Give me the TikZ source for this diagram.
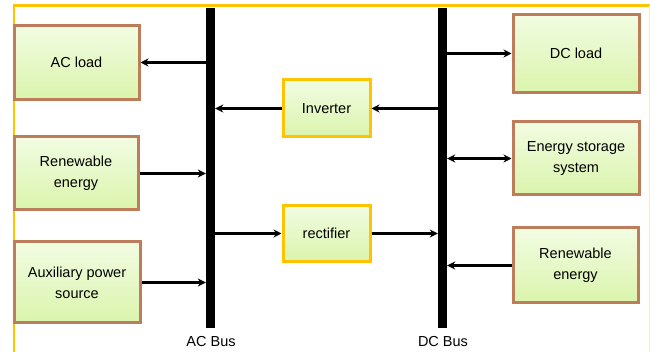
\documentclass[tikz,border=0pt]{standalone}
\usepackage{fontspec}
\setmainfont{Liberation Sans}
\usetikzlibrary{arrows.meta,positioning}

\definecolor{boxline}{RGB}{190,125,90}
\definecolor{gold}{RGB}{255,195,0}
\definecolor{lighttop}{RGB}{242,252,226}
\definecolor{lightbot}{RGB}{218,244,172}

\tikzset{
  unit/.style={draw=boxline, line width=3pt, top color=lighttop, bottom color=lightbot,
               align=center, font=\fontsize{14.5}{21}\selectfont, inner sep=2pt},
  conv/.style={unit, draw=gold},
  bus/.style={fill=black, minimum width=9pt, minimum height=320pt, inner sep=0pt},
  link/.style={line width=3pt, -{Stealth[length=8pt,width=8pt]}},
  biglink/.style={line width=3pt, {Stealth[length=8pt,width=8pt]}-{Stealth[length=8pt,width=8pt]}}
}

\begin{document}
\begin{tikzpicture}[x=1pt,y=-1pt]
\useasboundingbox (0,0) rectangle (650,352);
% frame
\draw[gold, line width=2.5pt] (14,352) -- (14,5.5) -- (650,5.5);
\draw[gold!35, line width=1pt] (649,5.5) -- (649,352);

% buses
\node[bus] (acbus) at (210.5,168) {};
\node[bus] (dcbus) at (442.5,168) {};
\node[font=\fontsize{14.5}{16}\selectfont] (aclabel) at (211,342) {AC Bus};
\node[font=\fontsize{14.5}{16}\selectfont] (dclabel) at (443,342) {DC Bus};

% AC side
\node[unit, minimum width=125pt, minimum height=74pt] (acload) at (76.5,62.5) {AC load};
\node[unit, minimum width=124pt, minimum height=73pt] (renewac) at (76,173.5) {Renewable\\energy};
\node[unit, minimum width=126pt, minimum height=81pt] (aux) at (77,282.5) {Auxiliary power\\source};

% converters
\node[conv, minimum width=87pt, minimum height=57pt] (inverter) at (326.5,108.5) {Inverter};
\node[conv, minimum width=87pt, minimum height=56pt] (rectifier) at (326.5,233.5) {rectifier};

% DC side
\node[unit, minimum width=126pt, minimum height=78pt] (dcload) at (576,53.5) {DC load};
\node[unit, minimum width=126pt, minimum height=73pt] (storage) at (576,158.5) {Energy storage\\system};
\node[unit, minimum width=125pt, minimum height=75pt] (renewdc) at (575.5,265.5) {Renewable\\energy};

% connections
\draw[link] (acbus.west |- acload.east) -- (acload.east);
\draw[link] (renewac.east) -- (acbus.west |- renewac.east);
\draw[link] (aux.east) -- (acbus.west |- aux.east);
\draw[link] (inverter.west) -- (acbus.east |- inverter.west);
\draw[link] (acbus.east |- rectifier.west) -- (rectifier.west);
\draw[link] (dcbus.west |- inverter.east) -- (inverter.east);
\draw[link] (rectifier.east) -- (dcbus.west |- rectifier.east);
\draw[link] (dcbus.east |- dcload.west) -- (dcload.west);
\draw[biglink] (dcbus.east |- storage.west) -- (storage.west);
\draw[link] (renewdc.west) -- (dcbus.east |- renewdc.west);
\end{tikzpicture}
\end{document}
